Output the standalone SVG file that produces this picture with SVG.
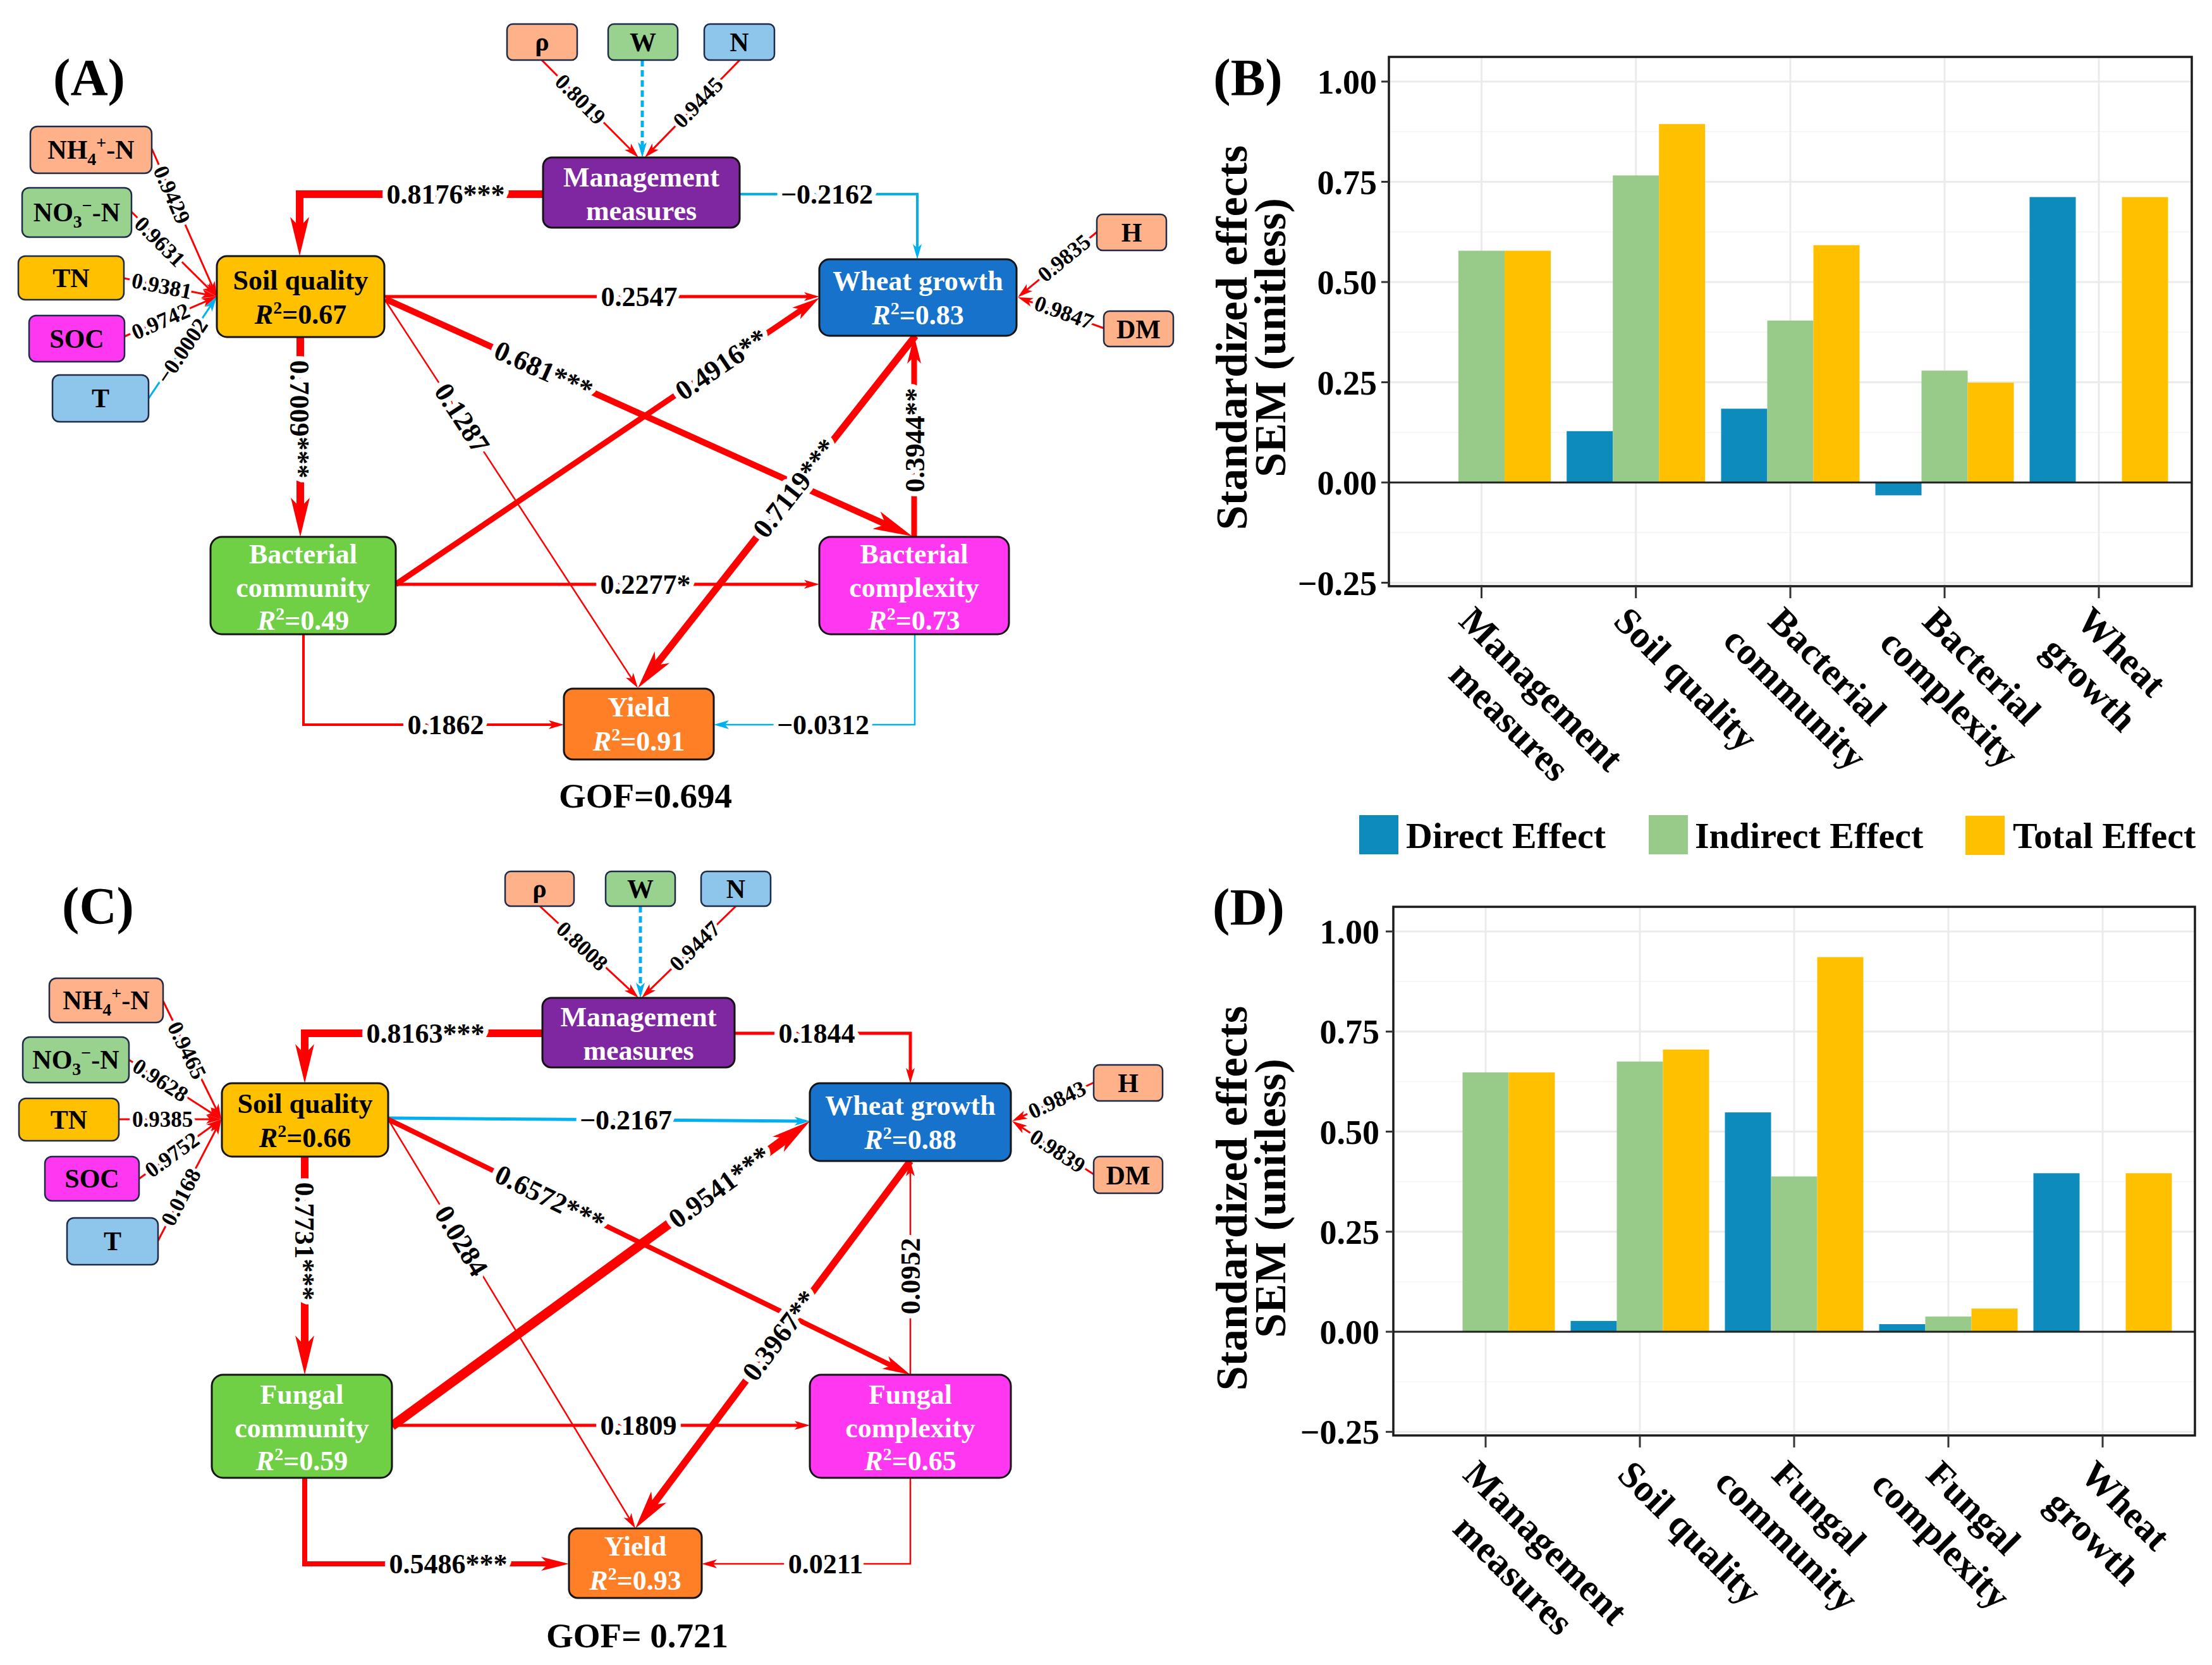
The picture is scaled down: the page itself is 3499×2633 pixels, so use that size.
<svg xmlns="http://www.w3.org/2000/svg" width="3499" height="2633" viewBox="0 0 3499 2633">
<defs>
<style>
text{font-family:"Liberation Serif","Times New Roman",serif;font-weight:bold}
.nb{stroke:#141414;stroke-width:3}
.ib{stroke:#1d2a48;stroke-width:2.5}
.nt{font-size:44px;text-anchor:middle;fill:#fff}
.nk{font-size:44px;text-anchor:middle;fill:#000}
.it{font-size:42px;text-anchor:middle}
.el{font-size:44px;text-anchor:middle;paint-order:stroke;stroke:#fff;stroke-width:16px;stroke-linejoin:round}
.sl{font-size:35px;text-anchor:middle;paint-order:stroke;stroke:#fff;stroke-width:10px;stroke-linejoin:round}
.r{stroke:#ff0000;fill:none}
.b{stroke:#00b0f0;fill:none}
.pl{font-size:82px;text-anchor:middle}
.gof{font-size:55px;text-anchor:middle}
.tk{font-size:54px;text-anchor:end}
.ax{font-size:70px;text-anchor:middle}
.xl{font-size:60px;text-anchor:middle}
.xs{font-size:60px}
.lg{font-size:58px}
.gmaj{stroke:#ebebeb;stroke-width:3}
.gmin{stroke:#f4f4f4;stroke-width:1.5}
.tkm{stroke:#333;stroke-width:3}
.dir{fill:#0d8bbd}.ind{fill:#98cb89}.tot{fill:#ffc000}
</style>
<marker id="rs" markerUnits="userSpaceOnUse" viewBox="-40 -20 80 40" markerWidth="80" markerHeight="40" refX="0" refY="0" orient="auto"><path d="M12,0 L-12,-7 L-6,0 L-12,7 Z" fill="#ff0000"/></marker>
<marker id="rm" markerUnits="userSpaceOnUse" viewBox="-40 -20 80 40" markerWidth="80" markerHeight="40" refX="0" refY="0" orient="auto"><path d="M22,0 L-22,-11 L-11,0 L-22,11 Z" fill="#ff0000"/></marker>
<marker id="rl" markerUnits="userSpaceOnUse" viewBox="-40 -20 80 40" markerWidth="80" markerHeight="40" refX="0" refY="0" orient="auto"><path d="M32,0 L-30,-15 L-14,0 L-30,15 Z" fill="#ff0000"/></marker>
<marker id="bs" markerUnits="userSpaceOnUse" viewBox="-40 -20 80 40" markerWidth="80" markerHeight="40" refX="0" refY="0" orient="auto"><path d="M12,0 L-12,-7 L-6,0 L-12,7 Z" fill="#00b0f0"/></marker>
</defs>
<rect width="3499" height="2633" fill="#fff"/>

<!-- Panel labels -->
<text class="pl" x="141" y="150">(A)</text>
<text class="pl" x="1974" y="150">(B)</text>
<text class="pl" x="155" y="1460">(C)</text>
<text class="pl" x="1975" y="1462">(D)</text>
<text class="gof" x="1021" y="1277">GOF=0.694</text>
<text class="gof" x="1008" y="2605">GOF= 0.721</text>

<!-- ================= Connectors ================= -->
<g id="connectors">
<g id="conn-A-lines">
<path class="r" stroke-width="12" d="M859,307H474V373" marker-end="url(#rl)"/>
<path class="b" stroke-width="4" d="M1170,307H1451V398" marker-end="url(#bs)"/>
<path class="r" stroke-width="3" d="M857,95L1001.5,240.5" marker-end="url(#rs)"/>
<path class="r" stroke-width="3" d="M1170,95L1028.4,240.4" marker-end="url(#rs)"/>
<path class="b" stroke-width="5" stroke-dasharray="10 6" d="M1016,95V237" marker-end="url(#bs)"/>
<path class="r" stroke-width="5" d="M608,469H1284" marker-end="url(#rs)"/>
<path class="r" stroke-width="10" d="M610,473L1413.8,834.9" marker-end="url(#rl)"/>
<path class="r" stroke-width="2.5" d="M608,473L1002.4,1077.9" marker-end="url(#rs)"/>
<path class="r" stroke-width="12" d="M475,533V817" marker-end="url(#rl)"/>
<path class="r" stroke-width="9" d="M626,924L1277.8,483.3" marker-end="url(#rm)"/>
<path class="r" stroke-width="5" d="M626,924H1284" marker-end="url(#rs)"/>
<path class="r" stroke-width="11" d="M1448,531L1028.8,1062.9" marker-end="url(#rl)"/>
<path class="r" stroke-width="9" d="M1446,849V553" marker-end="url(#rm)"/>
<path class="r" stroke-width="4" d="M480,1003V1146H880" marker-end="url(#rs)"/>
<path class="b" stroke-width="2.5" d="M1447,1003V1146H1141" marker-end="url(#bs)"/>
<path class="r" stroke-width="3" d="M240,235L338.2,458" marker-end="url(#rs)"/>
<path class="r" stroke-width="3" d="M208,335L334.5,460.5" marker-end="url(#rs)"/>
<path class="r" stroke-width="3" d="M196,440L331.2,466.7" marker-end="url(#rs)"/>
<path class="r" stroke-width="3" d="M197,532L332,473.8" marker-end="url(#rs)"/>
<path class="b" stroke-width="3" d="M235,630L336.3,479" marker-end="url(#bs)"/>
<path class="r" stroke-width="3" d="M1735,367L1619.3,462.4" marker-end="url(#rs)"/>
<path class="r" stroke-width="3" d="M1746,519L1621.3,474.1" marker-end="url(#rs)"/>
</g>
<g id="conn-C-lines">
<path class="r" stroke-width="12" d="M858,1634H482V1681" marker-end="url(#rl)"/>
<path class="r" stroke-width="5" d="M1162,1634H1440V1701" marker-end="url(#rs)"/>
<path class="r" stroke-width="3" d="M854,1433L1001.2,1569.8" marker-end="url(#rs)"/>
<path class="r" stroke-width="3" d="M1164,1433L1023.6,1569.6" marker-end="url(#rs)"/>
<path class="b" stroke-width="5" stroke-dasharray="10 6" d="M1013,1433V1566" marker-end="url(#bs)"/>
<path class="b" stroke-width="5" d="M614,1768L1269,1773" marker-end="url(#bs)"/>
<path class="r" stroke-width="8" d="M614,1770L1420.2,2164.3" marker-end="url(#rm)"/>
<path class="r" stroke-width="2.5" d="M614,1770L998.8,2406.7" marker-end="url(#rs)"/>
<path class="r" stroke-width="12" d="M482,1829V2142" marker-end="url(#rl)"/>
<path class="r" stroke-width="15" d="M620,2255L1255.1,1791.9" marker-end="url(#rl)"/>
<path class="r" stroke-width="5" d="M620,2254H1269" marker-end="url(#rs)"/>
<path class="r" stroke-width="11" d="M1440,1836L1024.2,2391.4" marker-end="url(#rl)"/>
<path class="r" stroke-width="2.5" d="M1440,2174V1848" marker-end="url(#rs)"/>
<path class="r" stroke-width="8" d="M482,2337V2473H878" marker-end="url(#rm)"/>
<path class="r" stroke-width="2.5" d="M1440,2337V2473H1122" marker-end="url(#rs)"/>
<path class="r" stroke-width="3" d="M258,1583L344.7,1759.2" marker-end="url(#rs)"/>
<path class="r" stroke-width="3" d="M204,1676L339.9,1763.5" marker-end="url(#rs)"/>
<path class="r" stroke-width="3" d="M188,1770H338" marker-end="url(#rs)"/>
<path class="r" stroke-width="3" d="M220,1864L340.3,1777" marker-end="url(#rs)"/>
<path class="r" stroke-width="3" d="M250,1962L344.5,1780.6" marker-end="url(#rs)"/>
<path class="r" stroke-width="3" d="M1730,1712L1611.8,1767.9" marker-end="url(#rs)"/>
<path class="r" stroke-width="3" d="M1730,1857L1611.1,1779.5" marker-end="url(#rs)"/>
</g>
<g id="conn-A-labels">
<text class="el" x="705" y="307" dy=".34em">0.8176***</text>
<text class="el" x="1308" y="307" dy=".34em">−0.2162</text>
<text class="sl" transform="translate(918,157) rotate(45.2)" dy=".34em">0.8019</text>
<text class="sl" transform="translate(1104,162) rotate(-45.8)" dy=".34em">0.9445</text>
<text class="el" x="1011" y="469" dy=".34em">0.2547</text>
<text class="el" transform="translate(860,585) rotate(24.2)" dy=".34em">0.681***</text>
<text class="el" transform="translate(731,661) rotate(56.9)" dy=".34em">0.1287</text>
<text class="el" transform="translate(474,663) rotate(90)" dy=".34em">0.7009***</text>
<text class="el" transform="translate(1141,576) rotate(-34.1)" dy=".34em">0.4916**</text>
<text class="el" x="1021" y="924" dy=".34em">0.2277*</text>
<text class="el" transform="translate(1257,772) rotate(-51.8)" dy=".34em">0.7119***</text>
<text class="el" transform="translate(1447,696) rotate(-90)" dy=".34em">0.3944**</text>
<text class="el" x="705" y="1146" dy=".34em">0.1862</text>
<text class="el" x="1302" y="1146" dy=".34em">−0.0312</text>
<text class="sl" transform="translate(272,308) rotate(66.2)" dy=".34em">0.9429</text>
<text class="sl" transform="translate(253,382) rotate(44.8)" dy=".34em">0.9631</text>
<text class="sl" transform="translate(256,452) rotate(11.2)" dy=".34em">0.9381</text>
<text class="sl" transform="translate(254,508) rotate(-23.3)" dy=".34em">0.9742</text>
<text class="sl" transform="translate(288,555) rotate(-56.1)" dy=".34em">−0.0002</text>
<text class="sl" transform="translate(1683,408) rotate(-39.5)" dy=".34em">0.9835</text>
<text class="sl" transform="translate(1683,494) rotate(19.8)" dy=".34em">0.9847</text>
</g>
<g id="conn-C-labels">
<text class="el" x="673" y="1634" dy=".34em">0.8163***</text>
<text class="el" x="1292" y="1634" dy=".34em">0.1844</text>
<text class="sl" transform="translate(921,1496) rotate(42.9)" dy=".34em">0.8008</text>
<text class="sl" transform="translate(1099,1496) rotate(-44.2)" dy=".34em">0.9447</text>
<text class="el" x="990" y="1771" dy=".34em">−0.2167</text>
<text class="el" transform="translate(870,1895) rotate(26.1)" dy=".34em">0.6572***</text>
<text class="el" transform="translate(730,1962) rotate(58.9)" dy=".34em">0.0284</text>
<text class="el" transform="translate(482,1963) rotate(90)" dy=".34em">0.7731***</text>
<text class="el" transform="translate(1138,1877) rotate(-36.1)" dy=".34em">0.9541***</text>
<text class="el" x="1010" y="2254" dy=".34em">0.1809</text>
<text class="el" transform="translate(1233,2112) rotate(-53.2)" dy=".34em">0.3967**</text>
<text class="el" transform="translate(1440,2018) rotate(-90)" dy=".34em">0.0952</text>
<text class="el" x="709" y="2473" dy=".34em">0.5486***</text>
<text class="el" x="1306" y="2473" dy=".34em">0.0211</text>
<text class="sl" transform="translate(296,1661) rotate(63.8)" dy=".34em">0.9465</text>
<text class="sl" transform="translate(254,1708) rotate(32.8)" dy=".34em">0.9628</text>
<text class="sl" x="257" y="1770" dy=".34em">0.9385</text>
<text class="sl" transform="translate(272,1826) rotate(-35.9)" dy=".34em">0.9752</text>
<text class="sl" transform="translate(286,1893) rotate(-62.5)" dy=".34em">0.0168</text>
<text class="sl" transform="translate(1672,1739) rotate(-25.3)" dy=".34em">0.9843</text>
<text class="sl" transform="translate(1673,1820) rotate(33.1)" dy=".34em">0.9839</text>
</g>
</g>

<!-- ================= Nodes panel A ================= -->
<g id="A-mgmt"><rect class="nb" x="859" y="249" width="311" height="111" rx="14" fill="#7f27a0"/><text class="nt" x="1014.5" y="295">Management</text><text class="nt" x="1014.5" y="348">measures</text></g>
<g id="A-soil"><rect class="nb" x="343" y="405" width="265" height="128" rx="16" fill="#ffc000"/><text class="nk" x="475.5" y="458">Soil quality</text><text class="nk" x="475.5" y="512"><tspan font-style="italic">R</tspan><tspan dy="-16" font-size="28">2</tspan><tspan dy="16">=0.67</tspan></text></g>
<g id="A-wheat"><rect class="nb" x="1296" y="410" width="312" height="121" rx="16" fill="#1672cb"/><text class="nt" x="1452" y="459">Wheat growth</text><text class="nt" x="1452" y="513"><tspan font-style="italic">R</tspan><tspan dy="-16" font-size="28">2</tspan><tspan dy="16">=0.83</tspan></text></g>
<g id="A-bcomm"><rect class="nb" x="333" y="849" width="293" height="154" rx="18" fill="#6fcf45"/><text class="nt" x="479.5" y="891">Bacterial</text><text class="nt" x="479.5" y="944">community</text><text class="nt" x="479.5" y="996"><tspan font-style="italic">R</tspan><tspan dy="-16" font-size="28">2</tspan><tspan dy="16">=0.49</tspan></text></g>
<g id="A-bcplx"><rect class="nb" x="1296" y="849" width="300" height="154" rx="18" fill="#ff37f0"/><text class="nt" x="1446" y="891">Bacterial</text><text class="nt" x="1446" y="944">complexity</text><text class="nt" x="1446" y="996"><tspan font-style="italic">R</tspan><tspan dy="-16" font-size="28">2</tspan><tspan dy="16">=0.73</tspan></text></g>
<g id="A-yield"><rect class="nb" x="892" y="1089" width="237" height="112" rx="14" fill="#ff7f27"/><text class="nt" x="1010.5" y="1133">Yield</text><text class="nt" x="1010.5" y="1187"><tspan font-style="italic">R</tspan><tspan dy="-16" font-size="28">2</tspan><tspan dy="16">=0.91</tspan></text></g>
<g id="A-nh4"><rect class="ib" x="48" y="200" width="192" height="74" rx="11" fill="#ffb28a"/><text class="it" x="144" y="251">NH<tspan dy="10" font-size="28">4</tspan><tspan dy="-26" font-size="28">+</tspan><tspan dy="16">-N</tspan></text></g>
<g id="A-no3"><rect class="ib" x="35" y="297" width="173" height="78" rx="11" fill="#99d18f"/><text class="it" x="121.5" y="350">NO<tspan dy="10" font-size="28">3</tspan><tspan dy="-26" font-size="28">−</tspan><tspan dy="16">-N</tspan></text></g>
<g id="A-tn"><rect class="ib" x="29" y="405" width="167" height="69" rx="11" fill="#ffc000"/><text class="it" x="112.5" y="454">TN</text></g>
<g id="A-soc"><rect class="ib" x="46" y="499" width="151" height="73" rx="11" fill="#ff37f0"/><text class="it" x="121.5" y="550">SOC</text></g>
<g id="A-t"><rect class="ib" x="83" y="593" width="152" height="74" rx="11" fill="#8ec5ea"/><text class="it" x="159" y="644">T</text></g>
<g id="A-rho"><rect class="ib" x="802" y="38" width="111" height="57" rx="9" fill="#ffb28a"/><text class="it" x="857.5" y="80">ρ</text></g>
<g id="A-w"><rect class="ib" x="962" y="38" width="110" height="57" rx="9" fill="#99d18f"/><text class="it" x="1017" y="81">W</text></g>
<g id="A-n"><rect class="ib" x="1114" y="38" width="111" height="57" rx="9" fill="#8ec5ea"/><text class="it" x="1169.5" y="81">N</text></g>
<g id="A-h"><rect class="ib" x="1735" y="339" width="110" height="57" rx="9" fill="#ffb28a"/><text class="it" x="1790" y="382">H</text></g>
<g id="A-dm"><rect class="ib" x="1746" y="492" width="110" height="56" rx="9" fill="#ffb28a"/><text class="it" x="1801" y="535">DM</text></g>

<!-- ================= Nodes panel C ================= -->
<g id="C-mgmt"><rect class="nb" x="858" y="1578" width="304" height="110" rx="14" fill="#7f27a0"/><text class="nt" x="1010" y="1623">Management</text><text class="nt" x="1010" y="1676">measures</text></g>
<g id="C-soil"><rect class="nb" x="351" y="1713" width="263" height="116" rx="16" fill="#ffc000"/><text class="nk" x="482.5" y="1760">Soil quality</text><text class="nk" x="482.5" y="1814"><tspan font-style="italic">R</tspan><tspan dy="-16" font-size="28">2</tspan><tspan dy="16">=0.66</tspan></text></g>
<g id="C-wheat"><rect class="nb" x="1281" y="1713" width="318" height="123" rx="16" fill="#1672cb"/><text class="nt" x="1440" y="1763">Wheat growth</text><text class="nt" x="1440" y="1817"><tspan font-style="italic">R</tspan><tspan dy="-16" font-size="28">2</tspan><tspan dy="16">=0.88</tspan></text></g>
<g id="C-fcomm"><rect class="nb" x="335" y="2174" width="285" height="163" rx="18" fill="#6fcf45"/><text class="nt" x="477.5" y="2220">Fungal</text><text class="nt" x="477.5" y="2273">community</text><text class="nt" x="477.5" y="2325"><tspan font-style="italic">R</tspan><tspan dy="-16" font-size="28">2</tspan><tspan dy="16">=0.59</tspan></text></g>
<g id="C-fcplx"><rect class="nb" x="1281" y="2174" width="318" height="163" rx="18" fill="#ff37f0"/><text class="nt" x="1440" y="2220">Fungal</text><text class="nt" x="1440" y="2273">complexity</text><text class="nt" x="1440" y="2325"><tspan font-style="italic">R</tspan><tspan dy="-16" font-size="28">2</tspan><tspan dy="16">=0.65</tspan></text></g>
<g id="C-yield"><rect class="nb" x="900" y="2417" width="210" height="110" rx="14" fill="#ff7f27"/><text class="nt" x="1005" y="2460">Yield</text><text class="nt" x="1005" y="2514"><tspan font-style="italic">R</tspan><tspan dy="-16" font-size="28">2</tspan><tspan dy="16">=0.93</tspan></text></g>
<g id="C-nh4"><rect class="ib" x="78" y="1547" width="180" height="70" rx="11" fill="#ffb28a"/><text class="it" x="168" y="1596">NH<tspan dy="10" font-size="28">4</tspan><tspan dy="-26" font-size="28">+</tspan><tspan dy="16">-N</tspan></text></g>
<g id="C-no3"><rect class="ib" x="36" y="1640" width="168" height="72" rx="11" fill="#99d18f"/><text class="it" x="120" y="1690">NO<tspan dy="10" font-size="28">3</tspan><tspan dy="-26" font-size="28">−</tspan><tspan dy="16">-N</tspan></text></g>
<g id="C-tn"><rect class="ib" x="30" y="1737" width="158" height="67" rx="11" fill="#ffc000"/><text class="it" x="109" y="1785">TN</text></g>
<g id="C-soc"><rect class="ib" x="71" y="1829" width="149" height="70" rx="11" fill="#ff37f0"/><text class="it" x="145.5" y="1878">SOC</text></g>
<g id="C-t"><rect class="ib" x="106" y="1926" width="144" height="74" rx="11" fill="#8ec5ea"/><text class="it" x="178" y="1977">T</text></g>
<g id="C-rho"><rect class="ib" x="799" y="1378" width="109" height="55" rx="9" fill="#ffb28a"/><text class="it" x="853.5" y="1419">ρ</text></g>
<g id="C-w"><rect class="ib" x="958" y="1378" width="110" height="55" rx="9" fill="#99d18f"/><text class="it" x="1013" y="1420">W</text></g>
<g id="C-n"><rect class="ib" x="1109" y="1378" width="110" height="55" rx="9" fill="#8ec5ea"/><text class="it" x="1164" y="1420">N</text></g>
<g id="C-h"><rect class="ib" x="1730" y="1684" width="109" height="57" rx="9" fill="#ffb28a"/><text class="it" x="1784.5" y="1727">H</text></g>
<g id="C-dm"><rect class="ib" x="1730" y="1829" width="109" height="58" rx="9" fill="#ffb28a"/><text class="it" x="1784.5" y="1873">DM</text></g>

<!-- ================= Panel B ================= -->
<g id="panel-B">
<g>
<line class="gmin" x1="2197" x2="3467" y1="842.3" y2="842.3"/><line class="gmin" x1="2197" x2="3467" y1="683.8" y2="683.8"/><line class="gmin" x1="2197" x2="3467" y1="525.3" y2="525.3"/><line class="gmin" x1="2197" x2="3467" y1="366.8" y2="366.8"/><line class="gmin" x1="2197" x2="3467" y1="208.3" y2="208.3"/>
<line class="gmaj" x1="2197" x2="3467" y1="921.5" y2="921.5"/><line class="gmaj" x1="2197" x2="3467" y1="604.5" y2="604.5"/><line class="gmaj" x1="2197" x2="3467" y1="446" y2="446"/><line class="gmaj" x1="2197" x2="3467" y1="287.5" y2="287.5"/><line class="gmaj" x1="2197" x2="3467" y1="129" y2="129"/>
<line class="gmaj" x1="2343.5" x2="2343.5" y1="90" y2="927"/><line class="gmaj" x1="2587.7" x2="2587.7" y1="90" y2="927"/><line class="gmaj" x1="2832" x2="2832" y1="90" y2="927"/><line class="gmaj" x1="3076" x2="3076" y1="90" y2="927"/><line class="gmaj" x1="3320" x2="3320" y1="90" y2="927"/>
</g>
<rect class="ind" x="2307" y="396.5" width="73" height="366.5"/><rect class="tot" x="2380" y="396.5" width="73" height="366.5"/>
<rect class="dir" x="2478.2" y="681.8" width="73" height="81.2"/><rect class="ind" x="2551.2" y="277.4" width="73" height="485.6"/><rect class="tot" x="2624.2" y="196.2" width="73" height="566.8"/>
<rect class="dir" x="2722.5" y="646.3" width="73" height="116.7"/><rect class="ind" x="2795.5" y="506.9" width="73" height="256.1"/><rect class="tot" x="2868.5" y="387.7" width="73" height="375.3"/>
<rect class="dir" x="2966.5" y="763" width="73" height="20.3"/><rect class="ind" x="3039.5" y="586.1" width="73" height="176.9"/><rect class="tot" x="3112.5" y="605.1" width="73" height="157.9"/>
<rect class="dir" x="3210.5" y="311.6" width="73" height="451.4"/><rect class="tot" x="3356.5" y="311.6" width="73" height="451.4"/>
<line x1="2197" x2="3467" y1="763" y2="763" stroke="#222" stroke-width="3"/>
<rect x="2197" y="90" width="1270" height="837" fill="none" stroke="#1a1a1a" stroke-width="3.5"/>
<g class="tkm">
<line x1="2185" x2="2197" y1="129" y2="129"/><line x1="2185" x2="2197" y1="287.5" y2="287.5"/><line x1="2185" x2="2197" y1="446" y2="446"/><line x1="2185" x2="2197" y1="604.5" y2="604.5"/><line x1="2185" x2="2197" y1="763" y2="763"/><line x1="2185" x2="2197" y1="921.5" y2="921.5"/>
<line x1="2343.5" x2="2343.5" y1="927" y2="946"/><line x1="2587.7" x2="2587.7" y1="927" y2="946"/><line x1="2832" x2="2832" y1="927" y2="946"/><line x1="3076" x2="3076" y1="927" y2="946"/><line x1="3320" x2="3320" y1="927" y2="946"/>
</g>
<text class="tk" x="2178" y="148">1.00</text><text class="tk" x="2178" y="306.5">0.75</text><text class="tk" x="2178" y="465">0.50</text><text class="tk" x="2178" y="623.5">0.25</text><text class="tk" x="2178" y="782">0.00</text><text class="tk" x="2178" y="940.5">−0.25</text>
<text class="ax" transform="translate(1972,534) rotate(-90)">Standardized effects</text>
<text class="ax" transform="translate(2033,534) rotate(-90)">SEM (unitless)</text>
<g transform="translate(2305.5,985) rotate(45)"><text class="xl" x="168" y="0">Management</text><text class="xl" x="168" y="72">measures</text></g>
<g transform="translate(2549.7,985) rotate(45)"><text class="xs" x="0" y="0">Soil quality</text></g>
<g transform="translate(2794,985) rotate(45)"><text class="xl" x="117" y="0">Bacterial</text><text class="xl" x="117" y="72">community</text></g>
<g transform="translate(3038,985) rotate(45)"><text class="xl" x="117" y="0">Bacterial</text><text class="xl" x="117" y="72">complexity</text></g>
<g transform="translate(3282,985) rotate(45)"><text class="xl" x="85" y="0">Wheat</text><text class="xl" x="85" y="72">growth</text></g>
</g>

<!-- Legend -->
<g id="legend">
<rect class="dir" x="2150" y="1289" width="62" height="62"/><text class="lg" x="2224" y="1341">Direct Effect</text>
<rect class="ind" x="2608" y="1289" width="62" height="62"/><text class="lg" x="2681" y="1341">Indirect Effect</text>
<rect class="tot" x="3109" y="1290" width="62" height="62"/><text class="lg" x="3184" y="1341">Total Effect</text>
</g>

<!-- ================= Panel D ================= -->
<g id="panel-D">
<g>
<line class="gmin" x1="2204" x2="3472" y1="2185.1" y2="2185.1"/><line class="gmin" x1="2204" x2="3472" y1="2026.9" y2="2026.9"/><line class="gmin" x1="2204" x2="3472" y1="1868.6" y2="1868.6"/><line class="gmin" x1="2204" x2="3472" y1="1710.4" y2="1710.4"/><line class="gmin" x1="2204" x2="3472" y1="1552.1" y2="1552.1"/>
<line class="gmaj" x1="2204" x2="3472" y1="2264.3" y2="2264.3"/><line class="gmaj" x1="2204" x2="3472" y1="1947.8" y2="1947.8"/><line class="gmaj" x1="2204" x2="3472" y1="1789.5" y2="1789.5"/><line class="gmaj" x1="2204" x2="3472" y1="1631.3" y2="1631.3"/><line class="gmaj" x1="2204" x2="3472" y1="1473" y2="1473"/>
<line class="gmaj" x1="2350" x2="2350" y1="1434" y2="2270"/><line class="gmaj" x1="2594" x2="2594" y1="1434" y2="2270"/><line class="gmaj" x1="2838" x2="2838" y1="1434" y2="2270"/><line class="gmaj" x1="3082" x2="3082" y1="1434" y2="2270"/><line class="gmaj" x1="3326" x2="3326" y1="1434" y2="2270"/>
</g>
<rect class="ind" x="2313.5" y="1695.8" width="73" height="410.2"/><rect class="tot" x="2386.5" y="1695.8" width="73" height="410.2"/>
<rect class="dir" x="2484.5" y="2088.9" width="73" height="17.1"/><rect class="ind" x="2557.5" y="1678.7" width="73" height="427.3"/><rect class="tot" x="2630.5" y="1659.7" width="73" height="446.3"/>
<rect class="dir" x="2728.5" y="1759.1" width="73" height="346.9"/><rect class="ind" x="2801.5" y="1860.4" width="73" height="245.6"/><rect class="tot" x="2874.5" y="1513.5" width="73" height="592.5"/>
<rect class="dir" x="2972.5" y="2094" width="73" height="12"/><rect class="ind" x="3045.5" y="2081.9" width="73" height="24.1"/><rect class="tot" x="3118.5" y="2069.3" width="73" height="36.7"/>
<rect class="dir" x="3216.5" y="1855.3" width="73" height="250.7"/><rect class="tot" x="3362.5" y="1855.3" width="73" height="250.7"/>
<line x1="2204" x2="3472" y1="2106" y2="2106" stroke="#222" stroke-width="3"/>
<rect x="2204" y="1434" width="1268" height="836" fill="none" stroke="#1a1a1a" stroke-width="3.5"/>
<g class="tkm">
<line x1="2192" x2="2204" y1="1473" y2="1473"/><line x1="2192" x2="2204" y1="1631.3" y2="1631.3"/><line x1="2192" x2="2204" y1="1789.5" y2="1789.5"/><line x1="2192" x2="2204" y1="1947.8" y2="1947.8"/><line x1="2192" x2="2204" y1="2106" y2="2106"/><line x1="2192" x2="2204" y1="2264.3" y2="2264.3"/>
<line x1="2350" x2="2350" y1="2270" y2="2289"/><line x1="2594" x2="2594" y1="2270" y2="2289"/><line x1="2838" x2="2838" y1="2270" y2="2289"/><line x1="3082" x2="3082" y1="2270" y2="2289"/><line x1="3326" x2="3326" y1="2270" y2="2289"/>
</g>
<text class="tk" x="2182" y="1492">1.00</text><text class="tk" x="2182" y="1650.3">0.75</text><text class="tk" x="2182" y="1808.5">0.50</text><text class="tk" x="2182" y="1966.8">0.25</text><text class="tk" x="2182" y="2125">0.00</text><text class="tk" x="2182" y="2283.3">−0.25</text>
<text class="ax" transform="translate(1972,1895) rotate(-90)">Standardized effects</text>
<text class="ax" transform="translate(2033,1895) rotate(-90)">SEM (unitless)</text>
<g transform="translate(2312,2335) rotate(45)"><text class="xl" x="168" y="0">Management</text><text class="xl" x="168" y="72">measures</text></g>
<g transform="translate(2556,2335) rotate(45)"><text class="xs" x="0" y="0">Soil quality</text></g>
<g transform="translate(2800,2335) rotate(45)"><text class="xl" x="90" y="0">Fungal</text><text class="xl" x="90" y="72">community</text></g>
<g transform="translate(3044,2335) rotate(45)"><text class="xl" x="90" y="0">Fungal</text><text class="xl" x="90" y="72">complexity</text></g>
<g transform="translate(3288,2335) rotate(45)"><text class="xl" x="85" y="0">Wheat</text><text class="xl" x="85" y="72">growth</text></g>
</g>
</svg>
